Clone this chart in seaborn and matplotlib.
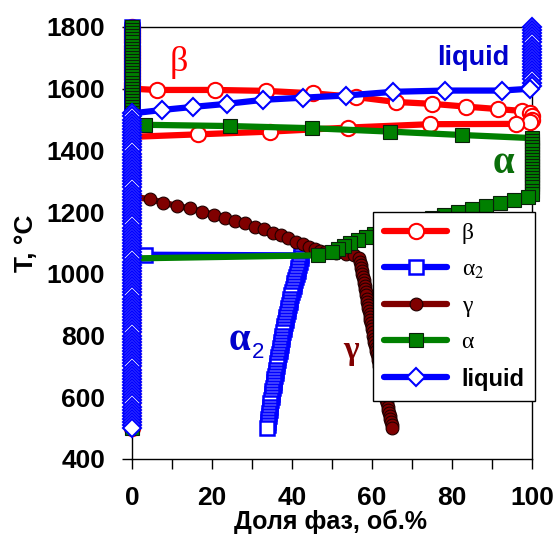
import matplotlib
matplotlib.use("Agg")
import matplotlib.pyplot as plt
import seaborn as sns
import pandas as pd

# ---------------------------------------------------------------------------
# Phase fractions (vol.%) versus temperature (°C), cooling from 1800 to 500 °C
# ---------------------------------------------------------------------------

# β phase
beta_x = ([0] * 20
          + [0, 6.2, 20.8, 33.4, 45.3, 56, 66, 75, 83.5, 91.5, 97.5, 99.5, 100, 100, 99.5,
             96, 74.5, 54, 34.5, 16.6, 0]
          + [0] * 95)
beta_T = ([*range(1800, 1600, -10)]
          + [1600, 1596, 1596, 1593, 1585, 1573, 1557, 1551, 1542, 1534, 1528, 1520, 1510, 1500, 1492,
             1486, 1485, 1474, 1461, 1452, 1444]
          + [*range(1440, 490, -10)])

# α2 phase
alpha2_col_T = [*range(1050, 490, -10)]
alpha2_col_x = [42.2, 42.0, 41.8, 41.6, 41.4, 41.2, 41.0, 40.8, 40.6, 40.4,
                40.2, 40.0, 39.8, 39.6, 39.4, 39.3, 39.1, 38.9, 38.7, 38.6,
                38.4, 38.3, 38.1, 37.9, 37.8, 37.6, 37.5, 37.3, 37.2, 37.0,
                36.9, 36.7, 36.6, 36.5, 36.3, 36.2, 36.0, 35.9, 35.8, 35.6,
                35.5, 35.4, 35.3, 35.1, 35.0, 34.9, 34.8, 34.6, 34.5, 34.4,
                34.3, 34.2, 34.1, 34.0, 33.9, 33.8]
alpha2_x = [0] * 74 + [3.3, 42.3] + alpha2_col_x
alpha2_T = [*range(1800, 1060, -10)] + [1062, 1060] + alpha2_col_T

# γ phase
gamma_col_T = [*range(1050, 490, -10)]
gamma_col_x = [56.8, 57.0, 57.2, 57.3, 57.5, 57.6, 57.8, 57.9, 58.0, 58.2,
               58.3, 58.4, 58.6, 58.7, 58.8, 59.0, 59.1, 59.2, 59.4, 59.5,
               59.6, 59.8, 59.9, 60.0, 60.2, 60.3, 60.5, 60.6, 60.8, 60.9,
               61.1, 61.2, 61.4, 61.5, 61.7, 61.8, 62.0, 62.2, 62.3, 62.5,
               62.6, 62.8, 63.0, 63.1, 63.3, 63.5, 63.6, 63.8, 64.0, 64.1,
               64.3, 64.5, 64.6, 64.8, 65.0, 65.1]
gamma_x = ([0] * 56
           + [4.5, 7.8, 11.2, 14.5, 17.4, 20.5, 23.3, 25.8, 28.3, 30.8, 33.0, 35.2, 37.2,
              39.1, 40.9, 42.7, 44.3, 45.8, 47.0, 48.3, 51.0, 53.5, 55.5]
           + gamma_col_x)
gamma_T = ([*range(1800, 1240, -10)]
           + [1242, 1231, 1220, 1212, 1202, 1191, 1182, 1172, 1164, 1153, 1145, 1134, 1126,
              1115, 1104, 1096, 1088, 1081, 1075, 1072, 1068, 1065, 1060]
           + gamma_col_T)

# α phase
alpha_x = ([0] * 32
           + [3.3, 24.5, 45, 64.5, 82.4]
           + [100] * 19
           + [99, 95.5, 92, 88.5, 85, 81.5, 78, 75, 72, 69, 66, 63, 60.5, 58.5, 56.5,
              54.5, 53, 51.5, 50, 46.5, 0]
           + [0] * 55)
alpha_T = ([*range(1800, 1480, -10)]
           + [1483, 1479, 1472, 1461, 1450]
           + [*range(1440, 1250, -10)]
           + [*range(1250, 1050, -10)] + [1050]
           + [*range(1040, 490, -10)])

# liquid
liquid_x = ([100] * 20
            + [99.5, 92.4, 78.3, 65.3, 53.5, 42.8, 32.8, 23.7, 15.2, 7.4]
            + [0] * 103)
liquid_T = ([*range(1800, 1600, -10)]
            + [1600, 1594, 1594, 1590, 1578, 1571, 1564, 1551, 1541, 1531]
            + [*range(1520, 490, -10)])

phase_labels = ["β", "α$_2$", "γ", "α", "liquid"]

# ---------------------------------------------------------------------------
sns.set_theme(style="ticks")
plt.rcParams["font.family"] = ["Liberation Sans", "DejaVu Sans"]
plt.rcParams["mathtext.fontset"] = "stix"
plt.rcParams["text.color"] = "black"
plt.rcParams["axes.labelcolor"] = "black"
plt.rcParams["xtick.color"] = "black"
plt.rcParams["ytick.color"] = "black"
plt.rcParams["xtick.labelcolor"] = "black"
plt.rcParams["ytick.labelcolor"] = "black"

fig = plt.figure(figsize=(5.54, 5.35), dpi=100)
ax = fig.add_axes([132 / 554, 76 / 535, 400 / 554, 432 / 535])

styles = [
    dict(x=beta_x, y=beta_T, color="#ff0000", marker="o", markersize=11,
         markerfacecolor="white", markeredgecolor="#ff0000", markeredgewidth=1.5),
    dict(x=alpha2_x, y=alpha2_T, color="#0000ff", marker="s", markersize=10.5,
         markerfacecolor="white", markeredgecolor="#0000ff", markeredgewidth=1.8),
    dict(x=gamma_x, y=gamma_T, color="#800000", marker="o", markersize=9.2,
         markerfacecolor="#800000", markeredgecolor="#200000", markeredgewidth=0.8),
    dict(x=alpha_x, y=alpha_T, color="#008000", marker="s", markersize=10,
         markerfacecolor="#008000", markeredgecolor="#0a200a", markeredgewidth=0.8),
    dict(x=liquid_x, y=liquid_T, color="#0000ff", marker="D", markersize=9.5,
         markerfacecolor="white", markeredgecolor="#0000ff", markeredgewidth=1.5),
]

for i, (st, lab) in enumerate(zip(styles, phase_labels)):
    df = pd.DataFrame({"frac": st.pop("x"), "T": st.pop("y")})
    sns.lineplot(data=df, x="frac", y="T", sort=False, estimator=None, ax=ax,
                 linewidth=4.5, clip_on=False, zorder=3 + i, label=lab, **st)

ax.set_xlim(0, 100)
ax.set_ylim(400, 1800)
ax.set_xticks([0, 20, 40, 60, 80, 100])
ax.set_xticks([10, 30, 50, 70, 90], minor=True)
ax.set_yticks(range(400, 1801, 200))
for side in ax.spines.values():
    side.set_linewidth(1.0)
    side.set_color("black")
ax.tick_params(axis="both", which="both", direction="out", length=7.2, width=1,
               color="black", labelcolor="black", labelsize=19)
ax.tick_params(axis="x", which="both", pad=12)
ax.tick_params(axis="y", which="both", pad=12)
for t in ax.get_xticklabels() + ax.get_yticklabels():
    t.set_fontweight("bold")

ax.set_xlabel("Доля фаз, об.%", fontsize=18, fontweight="bold", color="black")
ax.xaxis.set_label_coords(0.4975, -0.174)
ax.xaxis.label.set_va("bottom")
ax.set_ylabel("T, °C", fontsize=19, fontweight="bold", color="black")
ax.yaxis.set_label_coords(-0.235, 0.5)

# phase names next to their curves
ax.text(11.8, 1684, "β", color="#ff0000", fontsize=26, family="Liberation Serif",
        ha="center", va="center")
ax.text(85.3, 1700, "liquid", color="#0000cc", fontsize=19.5, fontweight="bold",
        ha="center", va="center")
ax.text(92.8, 1359, "α", color="#0a6e0a", fontsize=28, fontweight="bold",
        family="Liberation Serif", ha="center", va="center")
ax.text(26.8, 785, "α", color="#0000cc", fontsize=28, fontweight="bold",
        family="Liberation Serif", ha="center", va="center")
ax.text(31.6, 745, "2", color="#0000cc", fontsize=16, ha="center", va="center")
ax.text(54.8, 753, "γ", color="#800000", fontsize=24, fontweight="bold",
        family="Liberation Serif", ha="center", va="center")

leg = ax.legend(loc="upper left", bbox_to_anchor=(0.6025, 0.5718), frameon=True,
                fancybox=False, framealpha=1, edgecolor="black", fontsize=17,
                handlelength=2.7, handletextpad=0.6, labelspacing=0.62,
                borderpad=0.45, borderaxespad=0)
leg.get_frame().set_linewidth(1.0)
leg.set_zorder(20)
for txt in leg.get_texts():
    txt.set_color("black")
for txt in leg.get_texts()[:4]:
    txt.set_family("Liberation Serif")
leg.get_texts()[4].set_fontweight("bold")

fig.savefig("out.png", dpi=100, facecolor="white")
